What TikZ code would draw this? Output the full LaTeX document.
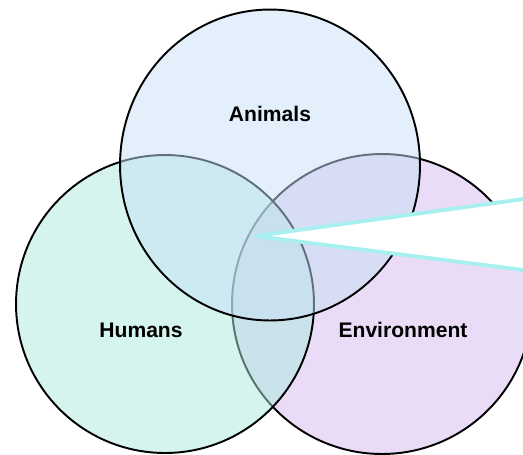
\documentclass[tikz,border=0pt]{standalone}
\usepackage{fontspec}
\setmainfont{Liberation Sans}
\usetikzlibrary{shapes.geometric}
\definecolor{animalsC}{RGB}{199,223,245}
\definecolor{humansC}{RGB}{171,233,221}
\definecolor{envC}{RGB}{213,185,239}
\definecolor{calloutC}{RGB}{168,240,240}
\tikzset{
  setcircle/.style={draw=black, line width=1.1pt, fill opacity=0.5, inner sep=0pt, outer sep=0pt},
  setlabel/.style={font=\bfseries\fontsize{12pt}{14pt}\selectfont, text=black, inner sep=0pt},
  callout/.style={fill=white, draw=calloutC, line width=2.2pt, line join=round}
}
\begin{document}
\begin{tikzpicture}[x=0.02cm, y=-0.02cm]
\useasboundingbox (0,0) rectangle (523,454);
\clip (0,0) rectangle (523,454);
\node[setcircle, circle, fill=envC, minimum size=6cm] (env) at (382,304) {};
\node[setcircle, circle, fill=humansC, minimum size=5.96cm] (humans) at (165,304) {};
\node[setcircle, ellipse, fill=animalsC, minimum width=6cm, minimum height=6.22cm] (animals) at (270,165) {};
\node[setlabel] (lanimals) at (270,114) {Animals};
\node[setlabel] (lhumans) at (141,330) {Humans};
\node[setlabel] (lenv) at (403,330) {Environment};
\coordinate (tip) at (255,236);
\coordinate (ctop) at (600,188.5);
\coordinate (cbot) at (600,279.7);
\filldraw[callout] (tip) -- (ctop) -- (cbot) -- cycle;
\end{tikzpicture}
\end{document}
